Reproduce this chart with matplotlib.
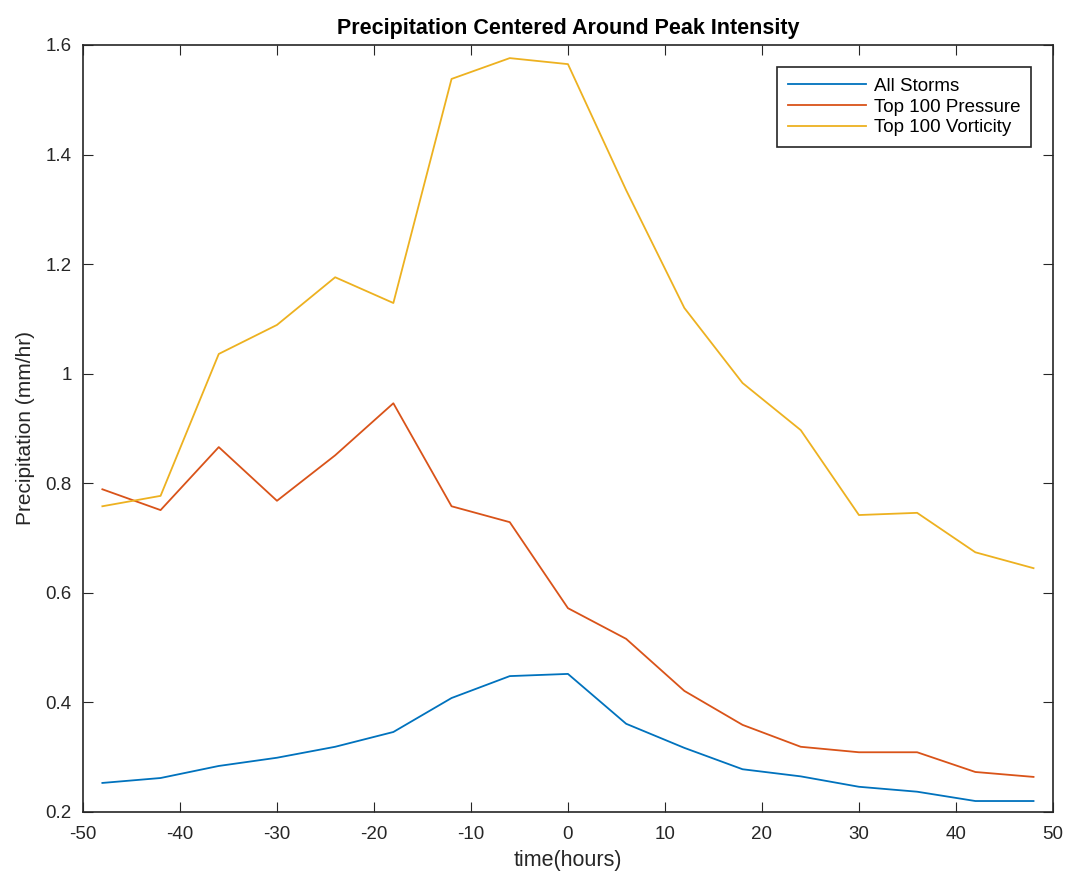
import matplotlib.pyplot as plt
import numpy as np

plt.rcParams['font.family'] = ['Liberation Sans', 'DejaVu Sans']
plt.rcParams['axes.unicode_minus'] = False

hours = [-48, -42, -36, -30, -24, -18, -12, -6, 0, 6, 12, 18, 24, 30, 36, 42, 48]
all_storms = [0.253, 0.262, 0.284, 0.299, 0.319, 0.346, 0.408, 0.448, 0.452,
              0.361, 0.317, 0.278, 0.265, 0.246, 0.237, 0.220, 0.220]
top_pressure = [0.789, 0.751, 0.866, 0.768, 0.851, 0.946, 0.758, 0.729, 0.572,
                0.516, 0.421, 0.359, 0.319, 0.309, 0.309, 0.273, 0.264]
top_vorticity = [0.758, 0.777, 1.036, 1.089, 1.176, 1.129, 1.538, 1.576, 1.565,
                 1.335, 1.120, 0.983, 0.897, 0.742, 0.746, 0.674, 0.645]

fig = plt.figure(figsize=(10.72, 8.73), dpi=100)
ax = fig.add_axes([0.0774, 0.0699, 0.9048, 0.8786])

ax.plot(hours, all_storms, color=(0, 0.447, 0.741), lw=1.3, label='All Storms')
ax.plot(hours, top_pressure, color=(0.85, 0.325, 0.098), lw=1.3, label='Top 100 Pressure')
ax.plot(hours, top_vorticity, color=(0.929, 0.694, 0.125), lw=1.3, label='Top 100 Vorticity')

ax.set_xlim(-50, 50)
ax.set_ylim(0.2, 1.6)
ax.set_xticks(np.arange(-50, 51, 10))
ax.set_yticks([0.2, 0.4, 0.6, 0.8, 1.0, 1.2, 1.4, 1.6])
ax.set_yticklabels(['0.2', '0.4', '0.6', '0.8', '1', '1.2', '1.4', '1.6'])
ax.tick_params(direction='in', top=True, right=True, length=7, labelsize=13.5,
               colors='#262626')
ax.tick_params(axis='x', pad=10)
ax.tick_params(axis='y', pad=8)
for s in ax.spines.values():
    s.set_color('#262626')
    s.set_linewidth(1.2)

ax.set_xlabel('time(hours)', fontsize=15.5, color='#262626', labelpad=5)
ax.set_ylabel('Precipitation (mm/hr)', fontsize=15, color='#262626', labelpad=8)
ax.set_title('Precipitation Centered Around Peak Intensity', fontsize=15.5,
             fontweight='bold', pad=8)

leg = ax.legend(loc='upper right', fontsize=13.5, handlelength=4.2, handletextpad=0.4,
                labelspacing=0.2, borderpad=0.55, borderaxespad=0, fancybox=False,
                framealpha=1, edgecolor='#262626', bbox_to_anchor=(0.977, 0.971))
leg.get_frame().set_linewidth(1.2)

fig.savefig('out.png', dpi=100)
